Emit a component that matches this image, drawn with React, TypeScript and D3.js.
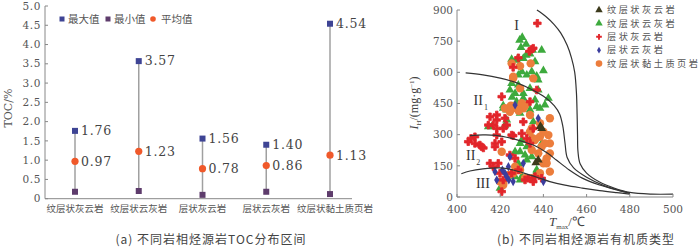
import React from "react";
import * as d3 from "d3";

// ---------- Left chart data ----------
const categories = ["纹层状灰云岩", "纹层状云灰岩", "层状灰云岩", "层状云灰岩", "纹层状黏土质页岩"];
const maxVals = [1.76, 3.57, 1.56, 1.40, 4.54];
const minVals = [0.18, 0.2, 0.1, 0.18, 0.12];
const meanVals = [0.97, 1.23, 0.78, 0.86, 1.13];
const tocTicks = [0, 0.5, 1.0, 1.5, 2.0, 2.5, 3.0, 3.5, 4.0, 4.5, 5.0];

// ---------- Right chart data ----------
const tmaxTicks = [400, 420, 440, 460, 480, 500];
const ihTicks = [0, 150, 300, 450, 600, 750, 900];

const curveI: [number, number][] = [[437, 900], [441, 870], [445, 830], [448, 790], [451, 730], [453, 670], [454.5, 600], [455.3, 500], [455.6, 400], [455.8, 300], [456, 220], [457, 160], [460, 115], [466, 72], [473, 42], [480, 22], [490, 14], [500, 14]];
const curveII1: [number, number][] = [[404, 597], [412, 588], [420, 572], [428, 548], [435, 515], [441, 478], [445, 440], [447.5, 400], [449, 340], [450, 260], [451, 190], [454, 140], [460, 95], [468, 55], [475, 32], [480, 18]];
const curveII2: [number, number][] = [[406, 295], [412, 299], [418, 297], [425, 283], [431, 265], [437, 242], [442, 210], [446, 178], [452, 130], [458, 91], [466, 58], [474, 34], [480, 18]];
const curveIII: [number, number][] = [[402, 112], [406, 125], [412, 135], [420, 140], [426, 130], [431, 115], [437, 95], [443, 74], [450, 57], [458, 43], [466, 31], [474, 21], [480, 14]];

const greenPts: [number, number][] = [
  [430.2, 768], [429.6, 720], [432, 736], [435, 707], [439.2, 707], [433.8, 688], [432, 683], [430.7, 667], [425.3, 663], [427.6, 659], [436.1, 651], [428.8, 635], [434.6, 603], [440, 608], [430, 603], [432.3, 587], [428.4, 587], [436.9, 582],
  [437.6, 563], [425.3, 547], [428.4, 539], [430.7, 499], [426.9, 499], [433.8, 523], [437.6, 515], [442.3, 475], [427.6, 459], [430.7, 475], [432.3, 443], [436.9, 435], [440.7, 443], [426, 427], [423, 419], [429.2, 403], [433.8, 419], [423, 371], [435.3, 362], [421.4, 427], [416, 338],
  [419.9, 42], [429.2, 258], [428.4, 162], [431.5, 202], [432.3, 178], [436.9, 130], [430, 98], [426.9, 218], [434.6, 290], [414.5, 338], [422.2, 346],
  [429, 755], [424.5, 515], [425.5, 480], [421.4, 440], [436.1, 467], [438.4, 427], [430, 274], [432.3, 242], [429.2, 218], [434.6, 194], [436.9, 122], [426.9, 98], [429.2, 82], [439.2, 258]
];
const orangePts: [number, number][] = [
  [425.3, 643], [434.1, 643], [429.2, 630], [426, 571], [435.3, 571],
  [426, 579], [429.2, 523], [422.2, 427], [427.6, 427], [430.7, 427], [430, 451], [433.8, 395], [443, 379], [438.4, 355], [434.6, 330], [440, 314], [435.3, 282], [438.4, 290],
  [420.7, 218], [421.4, 66], [423.8, 106], [426.9, 146], [431.5, 90], [434.6, 90], [438.4, 114], [440, 162], [441.5, 186], [437.6, 210], [434.6, 226], [439.2, 242], [436.1, 274], [433.8, 314], [443, 258], [442.3, 298], [429.2, 130], [426, 114],
  [440.7, 258], [443, 210], [441.5, 162], [443, 122], [419.9, 74], [421.4, 58], [424.5, 410], [428.5, 415], [431.5, 440], [425, 440]
];
const redPts: [number, number][] = [
  [437.2, 836], [433.5, 701], [434.6, 711], [435.3, 716], [428.4, 670], [426, 624],
  [420.7, 483], [418.4, 395], [418.4, 371], [422.2, 379], [416.8, 346], [423, 346], [418.4, 330], [421.4, 330], [433.8, 459], [436.9, 515], [430.7, 362], [435.3, 330], [426, 295], [432.3, 282],
  [405.2, 266], [408.3, 258], [410.6, 250], [411.4, 242], [412.2, 236], [418.4, 298], [425.3, 298], [417.6, 258], [420.7, 266], [417.6, 242], [415.3, 162], [416.8, 146], [419.1, 162], [419.9, 114], [421.4, 82], [420.7, 26], [424.5, 202], [426.9, 186], [428.4, 130], [431.5, 82], [436.1, 98], [435.3, 74], [425.3, 114], [433.8, 258], [430, 306],
  [415.3, 386], [414.5, 346], [408.3, 290], [406.5, 282], [439.2, 90], [433, 90]
];
const bluePts: [number, number][] = [
  [437.6, 379], [426.9, 443], [424.5, 194], [423.8, 146], [422.2, 114], [418.4, 82], [426, 74], [423, 98], [440, 74], [430.7, 162], [417.6, 122], [421, 130], [424, 82]
];
const darkPts: [number, number][] = [[439.2, 330], [438.6, 340], [437.6, 178], [436.5, 165]];

const legendItems = [
  { label: "纹层状灰云岩", type: "dark" },
  { label: "纹层状云灰岩", type: "green" },
  { label: "层状灰云岩", type: "red" },
  { label: "层状云灰岩", type: "blue" },
  { label: "纹层状黏土质页岩", type: "orange" },
];

const C = {
  green: "#3daa3d",
  orange: "#ec7d3c",
  red: "#e2262b",
  blue: "#3b3d9e",
  dark: "#3c3a1c",
  maxSq: "#3e4494",
  minSq: "#5e3c6c",
  mean: "#f0592a",
};

const numFont = "'DejaVu Serif', serif";
const cjkFont = "'Noto Sans CJK SC', sans-serif";

const tri = d3.symbol().type(d3.symbolTriangle).size(34)()!;
const triSmall = d3.symbol().type(d3.symbolTriangle).size(24)()!;
const cross = d3.symbol().type(d3.symbolCross).size(32)()!;
const diamond = d3.symbol().type(d3.symbolDiamond).size(24)()!;

function Marker({ type, x, y }: { type: string; x: number; y: number }) {
  const t = `translate(${x},${y})`;
  if (type === "green") return <path d={tri} transform={t} fill={C.green} />;
  if (type === "dark") return <path d={tri} transform={t} fill={C.dark} />;
  if (type === "red") return <path d={cross} transform={t} fill={C.red} stroke={C.red} strokeWidth={0.8} strokeLinejoin="round" />;
  if (type === "blue") return <path d={diamond} transform={t} fill={C.blue} />;
  return <circle cx={x} cy={y} r={4.2} fill={C.orange} />;
}

export default function App() {
  // Left
  const yL = d3.scaleLinear().domain([0, 5]).range([198.7, 6]);
  const xL = d3.scalePoint<string>().domain(categories).range([75, 330]);
  // Right
  const xR = d3.scaleLinear().domain([400, 500]).range([457, 673]);
  const yR = d3.scaleLinear().domain([0, 900]).range([197, 10]);
  const line = d3.line<[number, number]>().x(d => xR(d[0])).y(d => yR(d[1])).curve(d3.curveCatmullRom);

  const groups: [string, [number, number][]][] = [
    ["green", greenPts], ["orange", orangePts], ["red", redPts], ["blue", bluePts], ["dark", darkPts],
  ];

  return (
    <svg width={700} height={248} style={{ position: "absolute", left: 0, top: 0, background: "#fff" }}>
      {/* ===== Left chart ===== */}
      <g>
        <line x1={45} x2={45} y1={yL(5)} y2={yL(0)} stroke="#888" strokeWidth={1} />
        <line x1={45} x2={352} y1={yL(0)} y2={yL(0)} stroke="#888" strokeWidth={1} />
        {tocTicks.map(t => (
          <g key={t}>
            <line x1={45} x2={48} y1={yL(t)} y2={yL(t)} stroke="#888" />
            <text x={41} y={yL(t)} dy="0.35em" textAnchor="end" fontSize={10.5} fontFamily={numFont} fill="#555" letterSpacing={0.6}>
              {t === 0 ? "0" : t.toFixed(1)}
            </text>
          </g>
        ))}
        <text transform={`translate(12,${yL(2.35)}) rotate(-90)`} textAnchor="middle" fontSize={11} fontFamily={numFont} fill="#555">TOC/%</text>
        {categories.map((c, i) => {
          const x = xL(c)!;
          return (
            <g key={c}>
              <line x1={x} x2={x} y1={yL(minVals[i])} y2={yL(maxVals[i])} stroke="#a0a0a0" strokeWidth={1.5} />
              <rect x={x - 3} y={yL(maxVals[i]) - 3} width={6} height={6} fill={C.maxSq} />
              <rect x={x - 3} y={yL(minVals[i]) - 3} width={6} height={6} fill={C.minSq} />
              <circle cx={x} cy={yL(meanVals[i])} r={3.6} fill={C.mean} />
              <text x={x + 6} y={yL(maxVals[i])} dy="0.35em" fontSize={12.5} fontFamily={numFont} fill="#444" letterSpacing={0.8}>{maxVals[i].toFixed(2)}</text>
              <text x={x + 6} y={yL(meanVals[i])} dy="0.35em" fontSize={12.5} fontFamily={numFont} fill="#444" letterSpacing={0.8}>{meanVals[i].toFixed(2)}</text>
              <text x={i === categories.length - 1 ? x + 5 : x} y={212} textAnchor="middle" fontSize={9.5} fontFamily={cjkFont} fill="#555">{c}</text>
            </g>
          );
        })}
        {/* legend */}
        <rect x={59.5} y={16.5} width={5} height={5} fill={C.maxSq} />
        <text x={68} y={19} dy="0.35em" fontSize={10.5} fontFamily={cjkFont} fill="#555">最大值</text>
        <rect x={105.5} y={16.5} width={5} height={5} fill={C.minSq} />
        <text x={114} y={19} dy="0.35em" fontSize={10.5} fontFamily={cjkFont} fill="#555">最小值</text>
        <circle cx={153} cy={19} r={2.8} fill={C.mean} />
        <text x={161} y={19} dy="0.35em" fontSize={10.5} fontFamily={cjkFont} fill="#555">平均值</text>
        <text x={211} y={244} textAnchor="middle" fontSize={12} fontFamily={cjkFont} fill="#444" letterSpacing={1}>(a) 不同岩相烃源岩TOC分布区间</text>
      </g>

      {/* ===== Right chart ===== */}
      <g>
        {groups.map(([type, pts]) => (
          <g key={type}>
            {pts.map((p, i) => <Marker key={i} type={type} x={xR(p[0])} y={yR(p[1])} />)}
          </g>
        ))}
        {[curveI, curveII1, curveII2, curveIII].map((c, i) => (
          <path key={i} d={line(c)!} fill="none" stroke="#333" strokeWidth={1.2} />
        ))}
        <line x1={457} x2={457} y1={yR(900)} y2={yR(0)} stroke="#888" />
        <line x1={457} x2={673} y1={yR(0)} y2={yR(0)} stroke="#888" />
        {ihTicks.map(t => (
          <g key={t}>
            <line x1={457} x2={460} y1={yR(t)} y2={yR(t)} stroke="#888" />
            <text x={453} y={yR(t)} dy="0.35em" textAnchor="end" fontSize={10.5} fontFamily={numFont} fill="#555">{t}</text>
          </g>
        ))}
        {tmaxTicks.map(t => (
          <g key={t}>
            <line x1={xR(t)} x2={xR(t)} y1={yR(0)} y2={yR(0) - 3} stroke="#888" />
            <text x={xR(t)} y={209} dy="0.35em" textAnchor="middle" fontSize={10.5} fontFamily={numFont} fill="#555">{t}</text>
          </g>
        ))}
        {/* region labels */}
        <text x={xR(427.6)} y={yR(828)} dy="0.35em" textAnchor="middle" fontSize={14} fontFamily="'Liberation Serif', serif" fill="#333">I</text>
        <text x={xR(411)} y={yR(467)} dy="0.35em" textAnchor="middle" fontSize={14} fontFamily="'Liberation Serif', serif" fill="#333">II<tspan fontSize={8} dy="5" dx="1">1</tspan></text>
        <text x={xR(407.5)} y={yR(202)} dy="0.35em" textAnchor="middle" fontSize={14} fontFamily="'Liberation Serif', serif" fill="#333">II<tspan fontSize={8} dy="5" dx="1">2</tspan></text>
        <text x={xR(412)} y={yR(67)} dy="0.35em" textAnchor="middle" fontSize={14} fontFamily="'Liberation Serif', serif" fill="#333">III</text>
        {/* axis titles */}
        <text transform={`translate(418,103) rotate(-90)`} textAnchor="middle" fontSize={12} fontFamily="'Liberation Serif', serif" fill="#444">
          <tspan fontStyle="italic">I</tspan><tspan fontSize={7} dy="3">H</tspan><tspan dy="-3">/(mg·g</tspan><tspan fontSize={7} dy="-4">−1</tspan><tspan dy="4">)</tspan>
        </text>
        <text x={567} y={226} textAnchor="middle" fontSize={13} fontFamily="'Liberation Serif', serif" fill="#444">
          <tspan fontStyle="italic">T</tspan><tspan fontSize={7} dy="3">max</tspan><tspan dy="-3">/℃</tspan>
        </text>
        {/* legend */}
        {legendItems.map((it, i) => {
          const y = 10 + i * 13.4;
          return (
            <g key={it.label}>
              {it.type === "green" || it.type === "dark"
                ? <path d={triSmall} transform={`translate(599,${y})`} fill={it.type === "green" ? C.green : C.dark} />
                : it.type === "orange" ? <circle cx={599} cy={y} r={3.3} fill={C.orange} />
                : <path d={it.type === "red" ? cross : diamond} transform={`translate(599,${y}) scale(0.75)`} fill={it.type === "red" ? C.red : C.blue} />}
              <text x={607} y={y} dy="0.35em" fontSize={9.2} fontFamily={cjkFont} fill="#555" letterSpacing={2.5}>{it.label}</text>
            </g>
          );
        })}
        <text x={586} y={244} textAnchor="middle" fontSize={12} fontFamily={cjkFont} fill="#444" letterSpacing={1}>(b) 不同岩相烃源岩有机质类型</text>
      </g>
    </svg>
  );
}
